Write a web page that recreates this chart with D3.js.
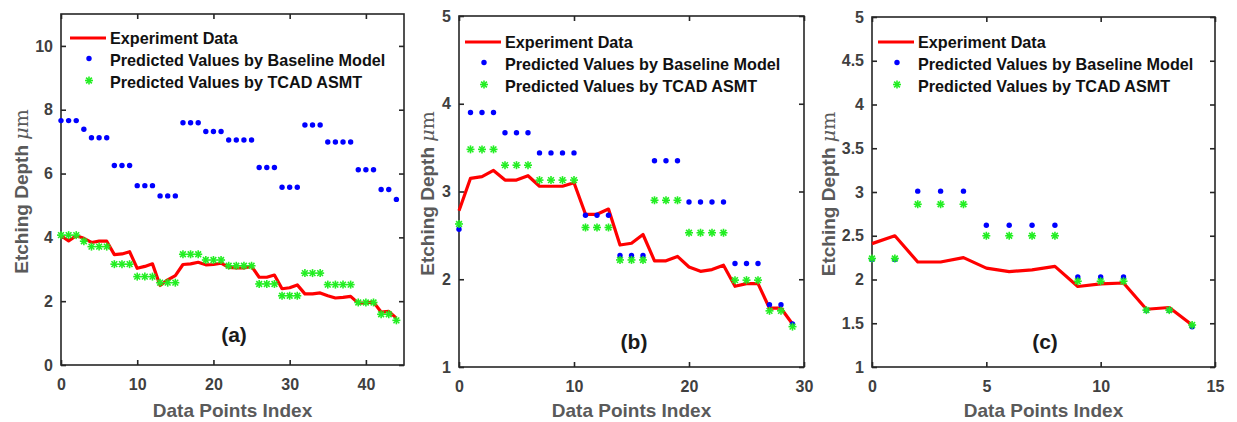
<!DOCTYPE html>
<html>
<head>
<meta charset="utf-8">
<script src="https://cdn.jsdelivr.net/npm/d3@7"></script>
<style>
  html, body { margin: 0; padding: 0; background: #fff; }
  svg { display: block; }
  text { font-family: "Liberation Sans", Arial, sans-serif; font-weight: bold; }
</style>
</head>
<body>
<svg id="chart" width="1237" height="422"></svg>
<script>
// ---- Panel (a): 45 samples ----
const idxA = d3.range(45);
const expA = [4.05,3.89,4.05,3.97,3.84,3.88,3.88,3.46,3.48,3.55,3.03,3.09,3.17,2.49,2.67,2.80,
  3.15,3.17,3.22,3.14,3.15,3.19,3.06,3.04,3.04,3.09,2.75,2.75,2.82,2.39,2.42,2.51,2.23,2.23,2.26,
  2.17,2.10,2.12,2.15,1.94,1.95,1.97,1.66,1.68,1.47];
const baseA = [7.66,7.66,7.66,7.39,7.12,7.12,7.12,6.25,6.25,6.25,5.62,5.62,5.62,5.30,5.30,5.30,
  7.59,7.59,7.59,7.32,7.32,7.32,7.05,7.05,7.05,7.05,6.19,6.19,6.19,5.57,5.57,5.57,7.52,7.52,7.52,
  6.99,6.99,6.99,6.99,6.12,6.12,6.12,5.50,5.50,5.19];
const tcadA = [4.07,4.07,4.07,3.88,3.71,3.71,3.71,3.16,3.16,3.16,2.77,2.77,2.77,2.58,2.58,2.58,
  3.47,3.47,3.47,3.29,3.29,3.29,3.11,3.11,3.11,3.11,2.54,2.54,2.54,2.17,2.17,2.17,2.88,2.88,2.88,
  2.52,2.52,2.52,2.52,1.96,1.96,1.96,1.59,1.59,1.40];

// ---- Panel (b): 30 samples ----
const idxB = d3.range(30);
const expB = [2.78,3.15,3.17,3.24,3.13,3.13,3.18,3.06,3.06,3.06,3.10,2.74,2.74,2.80,2.39,2.41,2.51,
  2.21,2.21,2.26,2.14,2.09,2.11,2.16,1.92,1.95,1.95,1.67,1.67,1.49];
const baseB = [2.57,3.90,3.90,3.90,3.67,3.67,3.67,3.44,3.44,3.44,3.44,2.73,2.73,2.73,2.27,2.27,2.27,
  3.35,3.35,3.35,2.88,2.88,2.88,2.88,2.18,2.18,2.18,1.71,1.71,1.49];
const tcadB = [2.63,3.48,3.48,3.48,3.30,3.30,3.30,3.13,3.13,3.13,3.13,2.59,2.59,2.59,2.22,2.22,2.22,
  2.90,2.90,2.90,2.53,2.53,2.53,2.53,1.99,1.99,1.99,1.64,1.64,1.46];

// ---- Panel (c): 15 samples ----
const idxC = d3.range(15);
const expC = [2.41,2.50,2.20,2.20,2.25,2.13,2.09,2.11,2.15,1.92,1.95,1.96,1.66,1.68,1.48];
const baseC = [2.23,2.23,3.01,3.01,3.01,2.62,2.62,2.62,2.62,2.03,2.03,2.03,1.65,1.65,1.46];
const tcadC = [2.24,2.24,2.86,2.86,2.86,2.50,2.50,2.50,2.50,1.98,1.98,1.98,1.65,1.65,1.48];

// Axis ticks and captions
const xTicksA = [0,10,20,30,40], yTicksA = [0,2,4,6,8,10];
const xTicksB = [0,10,20,30],    yTicksB = [1,2,3,4,5];
const xTicksC = [0,5,10,15],     yTicksC = [1,1.5,2,2.5,3,3.5,4,4.5,5];
const legendLabels = ["Experiment Data", "Predicted Values by Baseline Model", "Predicted Values by TCAD ASMT"];
const xTitle = "Data Points Index";
const yTitle = "Etching Depth ";

const svg = d3.select("#chart");
const RED = "#ff0000", BLUE = "#0000ff", GREEN = "#22ee22", FRAME = "#262626", TICKTXT = "#404040", TITLE = "#5a5a5a";

function asterisk(g, cx, cy, r) {
  const a = r * 0.72;
  const segs = [[0,-r,0,r],[-r,0,r,0],[-a,-a,a,a],[-a,a,a,-a]];
  segs.forEach(s => g.append("line")
    .attr("x1", cx + s[0]).attr("y1", cy + s[1]).attr("x2", cx + s[2]).attr("y2", cy + s[3])
    .attr("stroke", GREEN).attr("stroke-width", 1.6));
}

function panel(cfg) {
  const { box, xDom, yDom, xTicks, yTicks, idx, exp, base, tcad, tag, tagPos, legendPos, yTitleX } = cfg;
  const x = d3.scaleLinear().domain(xDom).range([box.l, box.r]);
  const y = d3.scaleLinear().domain(yDom).range([box.b, box.t]);
  const g = svg.append("g");

  // frame
  g.append("rect").attr("x", box.l).attr("y", box.t)
    .attr("width", box.r - box.l).attr("height", box.b - box.t)
    .attr("fill", "none").attr("stroke", FRAME).attr("stroke-width", 1.6);

  // axes with inward ticks on all four sides
  const fmt = d => String(d);
  const ax = [
    g.append("g").attr("transform", `translate(0,${box.b})`).call(d3.axisBottom(x).tickValues(xTicks).tickSize(-5).tickPadding(14).tickFormat(fmt)),
    g.append("g").attr("transform", `translate(0,${box.t})`).call(d3.axisTop(x).tickValues(xTicks).tickSize(-5).tickFormat("")),
    g.append("g").attr("transform", `translate(${box.l},0)`).call(d3.axisLeft(y).tickValues(yTicks).tickSize(-5).tickPadding(8).tickFormat(fmt)),
    g.append("g").attr("transform", `translate(${box.r},0)`).call(d3.axisRight(y).tickValues(yTicks).tickSize(-5).tickFormat(""))
  ];
  ax.forEach(a => {
    a.select(".domain").remove();
    a.selectAll(".tick line").attr("stroke", FRAME).attr("stroke-width", 1.6);
    a.selectAll(".tick text").attr("fill", TICKTXT).style("font-size", "16px")
      .style("font-family", "'Liberation Sans', Arial, sans-serif").style("font-weight", "bold");
  });

  // axis titles
  g.append("text").attr("x", (box.l + box.r) / 2).attr("y", 417)
    .attr("text-anchor", "middle").attr("fill", TITLE).style("font-size", "19px").text(xTitle);
  const yt = g.append("text")
    .attr("transform", `translate(${yTitleX},${(box.t + box.b) / 2 + 2}) rotate(-90)`)
    .attr("text-anchor", "middle").attr("fill", TITLE).style("font-size", "19px");
  yt.append("tspan").text(yTitle);
  yt.append("tspan").attr("font-style", "italic").style("font-family", "'DejaVu Serif', serif").style("font-weight", "normal").text("\u03bc");
  yt.append("tspan").style("font-family", "'DejaVu Serif', serif").style("font-weight", "normal").text("m");

  // experiment line
  const line = d3.line().x((d, i) => x(idx[i])).y(d => y(d));
  g.append("path").datum(exp).attr("d", line)
    .attr("fill", "none").attr("stroke", RED).attr("stroke-width", 3.2).attr("stroke-linejoin", "round");

  // baseline predictions
  g.selectAll(null).data(base).enter().append("circle")
    .attr("cx", (d, i) => x(idx[i])).attr("cy", d => y(d)).attr("r", 2.7).attr("fill", BLUE);

  // TCAD predictions
  tcad.forEach((d, i) => asterisk(g, x(idx[i]), y(d), 4));

  // panel tag
  g.append("text").attr("x", tagPos[0]).attr("y", tagPos[1]).attr("text-anchor", "middle")
    .attr("fill", "#1a1a1a").style("font-size", "21px").text(tag);

  // legend
  const [lx, ly, dy] = legendPos;
  g.append("line").attr("x1", lx).attr("x2", lx + 36).attr("y1", ly).attr("y2", ly)
    .attr("stroke", RED).attr("stroke-width", 3.2);
  g.append("circle").attr("cx", lx + 19).attr("cy", ly + dy - 1.5).attr("r", 2.7).attr("fill", BLUE);
  asterisk(g, lx + 19, ly + 2 * dy - 1.5, 4);
  legendLabels.forEach((t, i) => g.append("text")
    .attr("x", lx + 40).attr("y", ly + i * dy + 5.5)
    .attr("fill", "#111").style("font-size", "16.2px").text(t));
}

panel({ box: { l: 61, r: 404, t: 14, b: 365 }, xDom: [0, 45], yDom: [0, 11],
  xTicks: xTicksA, yTicks: yTicksA, idx: idxA, exp: expA, base: baseA, tcad: tcadA,
  tag: "(a)", tagPos: [234, 342], legendPos: [70, 38, 22], yTitleX: 28 });

panel({ box: { l: 459, r: 804, t: 16, b: 367 }, xDom: [0, 30], yDom: [1, 5],
  xTicks: xTicksB, yTicks: yTicksB, idx: idxB, exp: expB, base: baseB, tcad: tcadB,
  tag: "(b)", tagPos: [634, 349], legendPos: [465, 42, 22], yTitleX: 434 });

panel({ box: { l: 872, r: 1215, t: 17, b: 367 }, xDom: [0, 15], yDom: [1, 5],
  xTicks: xTicksC, yTicks: yTicksC, idx: idxC, exp: expC, base: baseC, tcad: tcadC,
  tag: "(c)", tagPos: [1045, 349], legendPos: [878, 42, 22], yTitleX: 835 });
</script>
</body>
</html>
